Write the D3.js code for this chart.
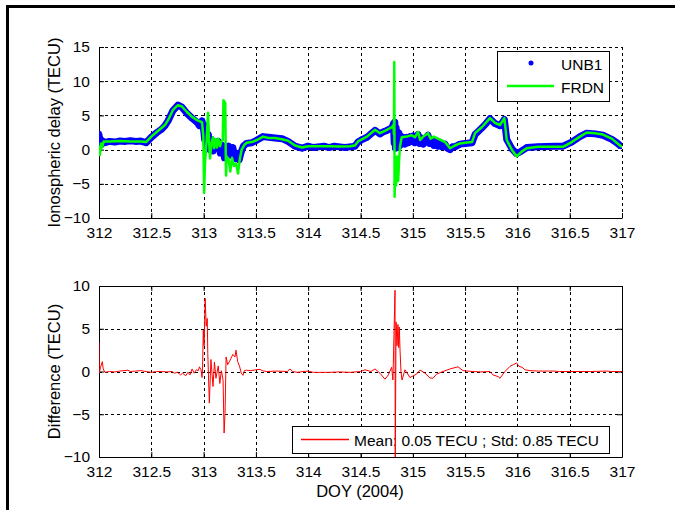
<!DOCTYPE html>
<html>
<head>
<meta charset="utf-8">
<script src="https://cdn.jsdelivr.net/npm/d3@7"></script>
<style>
  html, body { margin: 0; padding: 0; background: #fff; }
  svg { display: block; font-family: "Liberation Sans", Arial, sans-serif; }
</style>
</head>
<body>
<svg id="chart" width="675" height="510"></svg>
<script>
// Day-of-year axis and tick values
const xTicks = [312, 312.5, 313, 313.5, 314, 314.5, 315, 315.5, 316, 316.5, 317];
const topYTicks = [-10, -5, 0, 5, 10, 15];
const bottomYTicks = [-10, -5, 0, 5, 10];

// UNB1 ionospheric delay, [DOY, TECU]
const unb1 = [
  [312.0, 2.3], [312.004, 0.9], [312.012, 1.6], [312.02, 0.7], [312.03, 1.3], [312.05, 1.0],
  [312.1, 1.2], [312.15, 1.1], [312.2, 1.25], [312.25, 1.2], [312.3, 1.3], [312.35, 1.2],
  [312.4, 1.25], [312.45, 1.0], [312.5, 1.8], [312.554, 2.5], [312.6, 3.0], [312.631, 3.5],
  [312.66, 4.2], [312.707, 5.7], [312.755, 6.5], [312.793, 6.2], [312.841, 5.3], [312.889, 4.6],
  [312.937, 4.0], [312.96, 3.5], [312.985, 4.2], [313.0, 3.0], [313.01, 1.5], [313.02, 3.5],
  [313.03, 0.5], [313.045, 2.2], [313.06, 0.0], [313.075, 1.5], [313.09, -0.2], [313.105, 1.0],
  [313.12, 0.2], [313.14, 1.2], [313.16, -0.5], [313.18, 0.6], [313.2, -1.2], [313.22, -0.2],
  [313.24, 0.5], [313.26, -0.8], [313.28, 0.3], [313.3, -1.3], [313.32, -0.6], [313.34, -1.5],
  [313.36, -0.3], [313.38, 0.5], [313.41, 0.9], [313.46, 1.0], [313.511, 1.4], [313.568, 1.9],
  [313.62, 1.8], [313.683, 1.7], [313.75, 1.6], [313.807, 1.2], [313.874, 0.5], [313.941, 0.2],
  [313.998, 0.5], [314.05, 0.3], [314.094, 0.4], [314.15, 0.5], [314.2, 0.3], [314.25, 0.5],
  [314.3, 0.4], [314.35, 0.3], [314.4, 0.4], [314.447, 0.5], [314.476, 1.1], [314.52, 1.5],
  [314.562, 1.8], [314.6, 2.3], [314.639, 2.8], [314.686, 2.3], [314.72, 2.6], [314.753, 2.8],
  [314.801, 3.2], [314.815, 3.8], [314.822, 1.0], [314.828, 4.0], [314.834, 0.2], [314.84, 3.2],
  [314.846, 0.5], [314.853, 2.6], [314.86, 0.3], [314.868, 2.4], [314.876, 0.6], [314.885, 2.0],
  [314.895, 0.9], [314.91, 1.8], [314.925, 0.8], [314.942, 1.8], [314.96, 1.0], [314.975, 1.9],
  [314.989, 1.2], [315.005, 2.0], [315.02, 1.0], [315.035, 1.6], [315.05, 2.2], [315.065, 0.9],
  [315.08, 1.7], [315.1, 0.8], [315.12, 1.6], [315.145, 2.1], [315.16, 0.9], [315.18, 1.5],
  [315.2, 0.6], [315.22, 1.3], [315.241, 0.5], [315.26, 1.1], [315.28, 0.4], [315.308, 0.8],
  [315.33, 0.2], [315.356, 0.0], [315.38, 0.4], [315.403, 0.4], [315.451, 0.8], [315.5, 0.9],
  [315.566, 1.0], [315.595, 2.2], [315.662, 3.2], [315.7, 3.8], [315.738, 4.5], [315.786, 3.8],
  [315.834, 3.5], [315.875, 4.4], [315.898, 1.5], [315.948, 0.1], [315.993, -0.6], [316.041, -0.2],
  [316.089, 0.3], [316.197, 0.4], [316.36, 0.5], [316.436, 0.5], [316.519, 1.1], [316.598, 1.9],
  [316.663, 2.4], [316.742, 2.3], [316.818, 2.1], [316.902, 1.5], [316.95, 1.0], [316.99, 0.5]
];

// FRDN ionospheric delay, [DOY, TECU]
const frdn = [
  [312.0, 0.6], [312.008, -0.8], [312.02, 0.9], [312.03, 0.3], [312.045, 1.2], [312.1, 1.2],
  [312.2, 1.25], [312.3, 1.2], [312.4, 1.2], [312.45, 1.1], [312.5, 1.9], [312.554, 2.6],
  [312.631, 3.6], [312.66, 4.3], [312.707, 5.8], [312.755, 6.5], [312.793, 6.3], [312.841, 5.5],
  [312.889, 4.8], [312.937, 4.3], [312.985, 4.0], [312.997, 2.0], [313.005, -6.3], [313.013, -2.0],
  [313.03, 1.5], [313.042, 5.4], [313.05, 2.0], [313.061, -1.3], [313.075, 0.8], [313.09, 1.8],
  [313.1, 0.2], [313.115, 1.5], [313.128, 0.3], [313.14, 1.6], [313.157, 0.5], [313.17, 1.2],
  [313.183, 1.4], [313.19, 7.2], [313.2, 7.0], [313.207, 6.8], [313.214, -3.8], [313.221, -1.0],
  [313.24, -1.5], [313.255, -3.2], [313.272, -1.2], [313.29, -2.4], [313.31, -2.0], [313.329, -3.5],
  [313.345, -1.5], [313.364, 0.0], [313.39, 0.7], [313.412, 1.0], [313.46, 1.1], [313.511, 1.4],
  [313.568, 1.9], [313.62, 1.7], [313.683, 1.7], [313.75, 1.5], [313.807, 1.3], [313.874, 0.6],
  [313.941, 0.3], [313.998, 0.5], [314.094, 0.5], [314.2, 0.5], [314.3, 0.45], [314.4, 0.5],
  [314.447, 0.6], [314.476, 1.2], [314.562, 1.9], [314.639, 2.9], [314.686, 2.4], [314.753, 2.9],
  [314.801, 3.3], [314.815, 3.6], [314.82, 2.2], [314.823, 12.8], [314.826, -6.9], [314.833, -2.0],
  [314.84, -5.2], [314.849, -1.0], [314.86, -4.6], [314.87, -1.2], [314.878, 0.5], [314.894, 1.8],
  [314.942, 1.9], [314.989, 2.1], [315.02, 1.8], [315.05, 2.6], [315.07, 1.4], [315.1, 1.9],
  [315.145, 2.4], [315.17, 1.6], [315.2, 1.9], [315.241, 1.6], [315.308, 1.1], [315.356, 0.2],
  [315.403, 0.6], [315.451, 0.9], [315.5, 1.0], [315.566, 1.1], [315.595, 2.4], [315.662, 3.3],
  [315.738, 4.6], [315.786, 3.9], [315.834, 3.6], [315.875, 4.6], [315.898, 1.4], [315.948, -0.05],
  [315.993, -1.0], [316.041, -0.3], [316.089, 0.2], [316.197, 0.4], [316.36, 0.4], [316.436, 0.4],
  [316.519, 1.1], [316.598, 1.9], [316.663, 2.5], [316.742, 2.4], [316.818, 2.2], [316.902, 1.6],
  [316.99, 0.5], [317.0, 0.4]
];

// UNB1 - FRDN difference, [DOY, TECU]
const difference = [
  [312.0, 3.4], [312.002, -0.2], [312.015, 0.5], [312.032, 1.15], [312.04, 0.3], [312.057, -0.1],
  [312.1, 0.0], [312.15, -0.05], [312.2, 0.05], [312.277, 0.15], [312.3, 0.0], [312.35, 0.05],
  [312.4, 0.1], [312.45, 0.0], [312.5, -0.1], [312.55, 0.0], [312.6, 0.0], [312.65, -0.05],
  [312.7, 0.0], [312.72, -0.2], [312.75, -0.1], [312.78, -0.4], [312.8, -0.2], [312.83, -0.5],
  [312.85, -0.1], [312.87, -0.4], [312.89, 0.3], [312.91, -0.2], [312.93, 0.2], [312.95, 0.1],
  [312.96, 0.55], [312.975, 0.2], [312.985, -0.7], [312.99, 0.3], [312.997, 4.85], [313.005, 3.0],
  [313.015, 8.55], [313.025, 5.3], [313.035, 6.2], [313.04, 2.1], [313.055, -3.7], [313.07, 1.4],
  [313.09, -1.75], [313.104, 1.1], [313.118, -0.8], [313.14, 0.65], [313.155, -1.4], [313.17, 0.1],
  [313.186, -1.0], [313.196, -7.2], [313.205, -4.9], [313.215, 1.7], [313.23, 0.8], [313.247, 1.15],
  [313.26, 1.5], [313.28, 2.0], [313.3, 1.7], [313.31, 2.5], [313.325, 1.2], [313.345, 0.55],
  [313.36, -0.2], [313.377, -0.45], [313.39, 0.1], [313.41, 0.15], [313.45, 0.1], [313.5, 0.2],
  [313.54, 0.25], [313.56, 0.1], [313.6, 0.0], [313.7, 0.05], [313.8, 0.0], [313.826, 0.3],
  [313.85, 0.0], [313.9, -0.1], [313.95, 0.0], [314.0, 0.05], [314.05, -0.1], [314.1, -0.1],
  [314.2, -0.1], [314.3, -0.05], [314.4, -0.1], [314.5, 0.0], [314.543, 0.2], [314.6, 0.0],
  [314.639, 0.3], [314.686, -0.2], [314.734, -0.9], [314.766, -0.4], [314.798, 0.5], [314.81, -1.0],
  [314.83, 9.5], [314.832, -11.0], [314.84, 5.8], [314.849, 3.0], [314.858, 5.5], [314.865, 2.8],
  [314.871, 5.2], [314.878, 2.5], [314.887, 0.0], [314.897, -1.0], [314.925, 0.2], [314.973, -0.7],
  [315.037, -0.3], [315.069, 0.17], [315.117, -0.2], [315.164, -0.75], [315.193, -0.8], [315.228, -0.3],
  [315.289, 0.0], [315.356, 0.3], [315.432, 0.55], [315.48, 0.1], [315.575, 0.0], [315.65, -0.05],
  [315.738, 0.0], [315.767, -0.4], [315.817, -0.6], [315.834, -0.8], [315.862, -0.3], [315.881, 0.0],
  [315.929, 0.6], [315.961, 0.8], [315.993, 1.0], [316.015, 0.6], [316.044, 0.5], [316.073, 0.2],
  [316.12, 0.1], [316.2, 0.05], [316.3, 0.05], [316.35, 0.05], [316.4, 0.0], [316.5, 0.0],
  [316.6, 0.0], [316.7, 0.0], [316.85, 0.05], [316.9, 0.0], [317.0, 0.0]
];

const svg = d3.select("#chart");
const FONT = 15.5;
const LABEL_FONT = 16.5;

// Outer figure frame
svg.append("rect")
  .attr("x", 7.5).attr("y", 6.5)
  .attr("width", 700).attr("height", 520)
  .attr("fill", "#fff").attr("stroke", "#000").attr("stroke-width", 3);

const left = 99, right = 622;
const x = d3.scaleLinear().domain([312, 317]).range([left, right]);

function drawPanel(cfg) {
  const y = d3.scaleLinear().domain(cfg.yDomain).range([cfg.bottom, cfg.top]);
  const g = svg.append("g");

  // dashed grid
  g.selectAll(".vgrid").data(xTicks).join("line")
    .attr("x1", d => Math.round(x(d)) + 0.5).attr("x2", d => Math.round(x(d)) + 0.5)
    .attr("y1", cfg.top).attr("y2", cfg.bottom)
    .attr("stroke", "#000").attr("stroke-width", 1).attr("stroke-dasharray", "3,3");
  g.selectAll(".hgrid").data(cfg.yTicks).join("line")
    .attr("x1", left).attr("x2", right)
    .attr("y1", d => Math.round(y(d)) + 0.5).attr("y2", d => Math.round(y(d)) + 0.5)
    .attr("stroke", "#000").attr("stroke-width", 1).attr("stroke-dasharray", "3,3");

  // axes with inward ticks
  const xAxis = d3.axisBottom(x).tickValues(xTicks).tickSizeInner(-5).tickSizeOuter(0)
    .tickPadding(9).tickFormat(d3.format("~g"));
  const yAxis = d3.axisLeft(y).tickValues(cfg.yTicks).tickSizeInner(-5).tickSizeOuter(0)
    .tickPadding(9).tickFormat(d3.format("~g"));
  const gx = g.append("g").attr("transform", `translate(0,${cfg.bottom})`).call(xAxis);
  const gy = g.append("g").attr("transform", `translate(${left},0)`).call(yAxis);
  [gx, gy].forEach(a => {
    a.selectAll("path, line").attr("stroke", "#000");
    a.selectAll("text").attr("font-size", FONT).attr("fill", "#000")
      .attr("font-family", '"Liberation Sans", Arial, sans-serif');
  });
  gx.selectAll("text").attr("dy", "0.71em");
  if (cfg.box) {
    g.append("g").attr("transform", `translate(0,${cfg.top})`)
      .call(d3.axisTop(x).tickValues(xTicks).tickSizeInner(-5).tickSizeOuter(0).tickFormat(""))
      .selectAll("path, line").attr("stroke", "#000");
    g.append("g").attr("transform", `translate(${right},0)`)
      .call(d3.axisRight(y).tickValues(cfg.yTicks).tickSizeInner(-5).tickSizeOuter(0).tickFormat(""))
      .selectAll("path, line").attr("stroke", "#000");
  }

  // y label
  svg.append("text")
    .attr("transform", `translate(60,${(cfg.top + cfg.bottom) / 2}) rotate(-90)`)
    .attr("text-anchor", "middle")
    .attr("font-size", LABEL_FONT).attr("fill", "#000")
    .text(cfg.yLabel);

  const clipId = "clip" + cfg.top;
  svg.append("clipPath").attr("id", clipId).append("rect")
    .attr("x", left).attr("y", cfg.top).attr("width", right - left).attr("height", cfg.bottom - cfg.top);

  return { y, clipId };
}

// ---- Top panel: ionospheric delay ----
const topP = drawPanel({
  top: 47, bottom: 218, yDomain: [-10, 15], yTicks: topYTicks,
  yLabel: "Ionospheric delay (TECU)", box: false
});
const lineTop = d3.line().x(d => x(d[0])).y(d => topP.y(d[1]));
const topData = svg.append("g").attr("clip-path", `url(#${topP.clipId})`);
topData.append("path").datum(unb1)
  .attr("d", lineTop).attr("fill", "none").attr("stroke", "#0000ff")
  .attr("stroke-width", 7).attr("stroke-linejoin", "round");
topData.selectAll(".unb").data(unb1).join("circle")
  .attr("cx", d => x(d[0])).attr("cy", d => topP.y(d[1])).attr("r", 3).attr("fill", "#0000ff");
topData.append("path").datum(frdn)
  .attr("d", lineTop).attr("fill", "none").attr("stroke", "#00ff00")
  .attr("stroke-width", 2.5).attr("stroke-linejoin", "round");

// top legend
const lg = svg.append("g");
lg.append("rect").attr("x", 497.5).attr("y", 51.5).attr("width", 112).attr("height", 50)
  .attr("fill", "#fff").attr("stroke", "#000").attr("stroke-width", 1);
lg.append("circle").attr("cx", 531).attr("cy", 63).attr("r", 2.5).attr("fill", "#0000ff");
lg.append("text").attr("x", 561).attr("y", 69.5).attr("font-size", FONT).attr("fill", "#000").text("UNB1");
lg.append("line").attr("x1", 507).attr("x2", 554).attr("y1", 86).attr("y2", 86)
  .attr("stroke", "#00ff00").attr("stroke-width", 2.5);
lg.append("text").attr("x", 561).attr("y", 92.5).attr("font-size", FONT).attr("fill", "#000").text("FRDN");

// ---- Bottom panel: difference ----
const botP = drawPanel({
  top: 286, bottom: 457, yDomain: [-10, 10], yTicks: bottomYTicks,
  yLabel: "Difference (TECU)", box: true
});

// bottom legend
const lg2 = svg.append("g");
lg2.append("rect").attr("x", 292.5).attr("y", 426.5).attr("width", 317).attr("height", 27)
  .attr("fill", "#fff").attr("stroke", "#000").attr("stroke-width", 1);
lg2.append("line").attr("x1", 301).attr("x2", 349).attr("y1", 439.5).attr("y2", 439.5)
  .attr("stroke", "#ff0000").attr("stroke-width", 1.3);
lg2.append("text").attr("x", 354).attr("y", 446).attr("font-size", FONT).attr("fill", "#000")
  .text("Mean: 0.05 TECU ; Std: 0.85 TECU");

const lineBot = d3.line().x(d => x(d[0])).y(d => botP.y(d[1]));
svg.append("g").attr("clip-path", `url(#${botP.clipId})`)
  .append("path").datum(difference)
  .attr("d", lineBot).attr("fill", "none").attr("stroke", "#ff0000").attr("stroke-width", 1);

// x label
svg.append("text").attr("x", 360).attr("y", 497).attr("text-anchor", "middle")
  .attr("font-size", LABEL_FONT).attr("fill", "#000").text("DOY (2004)");
</script>
</body>
</html>
